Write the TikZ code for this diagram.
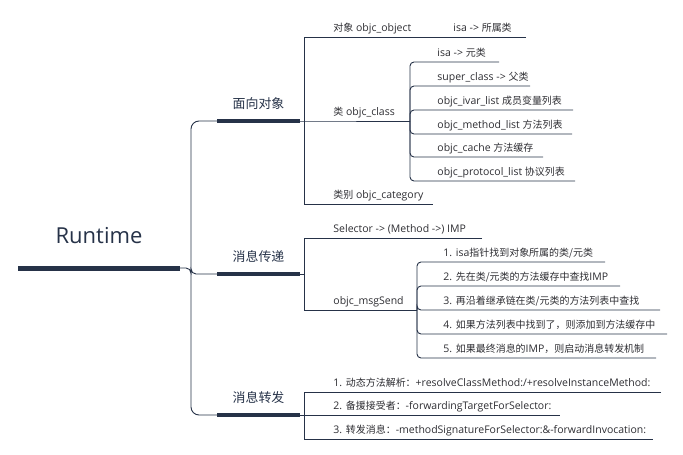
\documentclass[tikz,border=0pt]{standalone}
\usepackage{fontspec}
\setmainfont{Open Sans}
\newfontfamily\cjk[Scale=0.95]{Noto Sans CJK SC}
\usetikzlibrary{positioning}
\definecolor{navy}{RGB}{38,50,72}
\definecolor{ink}{RGB}{45,45,50}

\begin{document}
\begin{tikzpicture}[x=1pt,y=-1pt,draw=navy,line width=0.9pt]
  \tikzset{
    leaf/.style={anchor=base west,inner sep=0pt,text=ink,font=\fontsize{10.5}{12}\selectfont},
    topic/.style={anchor=base,inner sep=0pt,text=navy,font=\fontsize{13.6}{15}\selectfont},
    bar/.style={line width=4.5pt},
    curvy/.style={rounded corners=4pt}
  }
  \useasboundingbox (0,0) rectangle (683,455);

  % root
  \node[topic,font=\fontsize{22}{26}\selectfont] (rt) at (99,243) {Runtime};
  \coordinate (rt-l) at (18,268);
  \coordinate (rt-r) at (180,268);
  \draw[bar,line width=5pt] (rt-l) -- (rt-r);

  % main branches
  \node[topic] (oo) at (258.5,108) {\cjk 面向对象};
  \node[topic] (ms) at (258.5,261) {\cjk 消息传递};
  \node[topic] (mf) at (258.5,402) {\cjk 消息转发};
  \coordinate (oo-l) at (217,121);  \coordinate (oo-r) at (300,121);
  \coordinate (ms-l) at (217,274);  \coordinate (ms-r) at (300,274);
  \coordinate (mf-l) at (217,415);  \coordinate (mf-r) at (300,415);
  \draw[bar] (oo-l) -- (oo-r);
  \draw[bar] (ms-l) -- (ms-r);
  \draw[bar] (mf-l) -- (mf-r);
  \draw[rounded corners=8pt] (oo-l) -| (191,268) |- (mf-l);
  \draw[rounded corners=5pt] (rt-r) -- (191,268) |- (ms-l);

  % 面向对象
  \node[leaf] (obj) at (333,31.5) {{\cjk 对象} objc\_object};
  \node[leaf] (obj-isa) at (453,31.5) {isa -> {\cjk 所属类}};
  \node[leaf] (cls) at (333,115.5) {{\cjk 类} objc\_class};
  \node[leaf] (cat) at (333,198.5) {{\cjk 类别} objc\_category};
  \draw (oo-r) -- (304,121) -- (410,121);
  \draw (526,37) -- (304,37) -- (304,204) -- (433,204);

  \node[leaf] (cls1) at (437,56.5)  {isa -> {\cjk 元类}};
  \node[leaf] (cls2) at (437,80.5)  {super\_class -> {\cjk 父类}};
  \node[leaf] (cls3) at (437,104.5) {objc\_ivar\_list {\cjk 成员变量列表}};
  \node[leaf] (cls4) at (437,128.5) {objc\_method\_list {\cjk 方法列表}};
  \node[leaf] (cls5) at (437,151.5) {objc\_cache {\cjk 方法缓存}};
  \node[leaf] (cls6) at (437,175.5) {objc\_protocol\_list {\cjk 协议列表}};
  \foreach \y/\e in {62/499,86/530,110/573,134/572,157/543,181/575}
    \draw[curvy] (410,121) |- (\e,\y);

  % 消息传递
  \node[leaf] (sel) at (333,232.5) {Selector -> (Method ->) IMP};
  \node[leaf] (send) at (333,304.5) {objc\_msgSend};
  \draw (ms-r) -- (304,274);
  \draw (482,238) -- (304,238) -- (304,310) -- (417,310);

  \node[leaf] (send1) at (443,256.5) {1. isa{\cjk 指针找到对象所属的类/元类}};
  \node[leaf] (send2) at (443,280.5) {2. {\cjk 先在类/元类的方法缓存中查找}IMP};
  \node[leaf] (send3) at (443,304.5) {3. {\cjk 再沿着继承链在类/元类的方法列表中查找}};
  \node[leaf] (send4) at (443,328.5) {4. {\cjk 如果方法列表中找到了，则添加到方法缓存中}};
  \node[leaf] (send5) at (443,352.5) {5. {\cjk 如果最终消息的}IMP{\cjk ，则启动消息转发机制}};
  \foreach \y/\e in {262/605,286/620,310/660,334/667,358/656}
    \draw[curvy] (417,310) |- (\e,\y);

  % 消息转发
  \node[leaf] (fw1) at (333,386.5) {1. {\cjk 动态方法解析：}+resolveClassMethod:/+resolveInstanceMethod:};
  \node[leaf] (fw2) at (333,409.5) {2. {\cjk 备援接受者：}-forwardingTargetForSelector:};
  \node[leaf] (fw3) at (333,433.5) {3. {\cjk 转发消息：}-methodSignatureForSelector:\&-forwardInvocation:};
  \draw (mf-r) -- (304,415);
  \draw (661,392) -- (304,392) -- (304,439) -- (653,439);
  \draw (304,415) -- (560,415);
\end{tikzpicture}
\end{document}
